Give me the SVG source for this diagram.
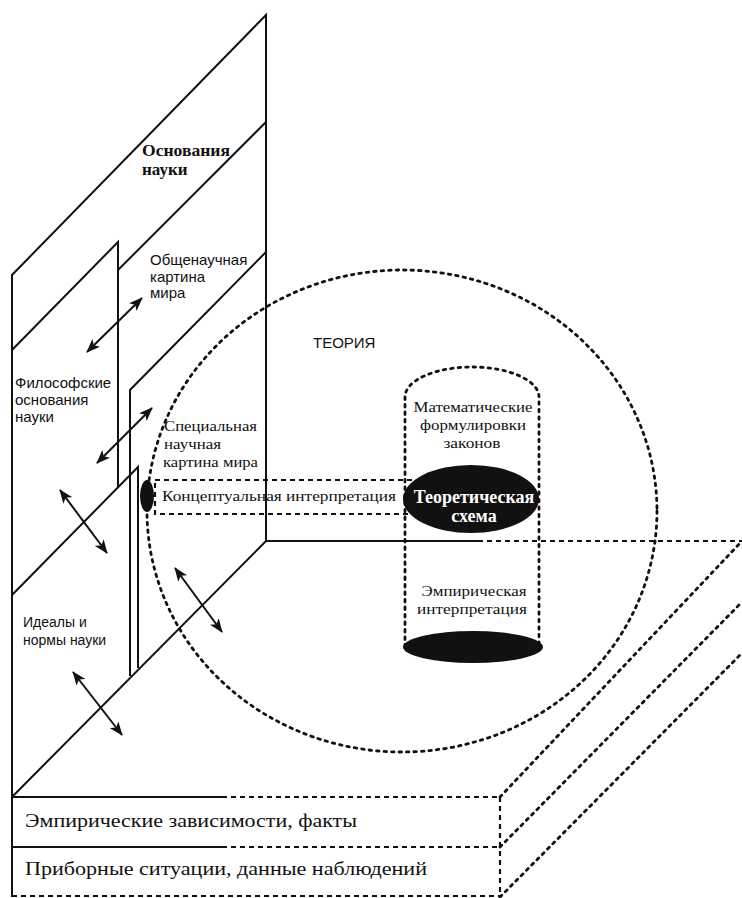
<svg xmlns="http://www.w3.org/2000/svg" width="742" height="898" viewBox="0 0 742 898">
<defs>
<marker id="ah" viewBox="0 0 14 11" refX="13" refY="5.5" markerWidth="14" markerHeight="11" markerUnits="userSpaceOnUse" orient="auto-start-reverse">
<path d="M0,0 L14,5.5 L0,11 L3.5,5.5 Z" fill="#111"/>
</marker>
<style>
.s{stroke:#111;stroke-width:2;fill:none}
.dot{stroke:#111;stroke-width:2.8;fill:none;stroke-dasharray:2.5 5;stroke-linecap:round}
.dash{stroke:#111;stroke-width:2.2;fill:none;stroke-dasharray:5 4}
.arr{stroke:#111;stroke-width:2;fill:none;marker-start:url(#ah);marker-end:url(#ah)}
.sans{font-family:"Liberation Sans",Arial,sans-serif;font-size:15px;fill:#111}
.serif{font-family:"Liberation Serif","Times New Roman",serif;font-size:15.5px;fill:#111}
.bold{font-family:"Liberation Serif","Times New Roman",serif;font-size:17px;font-weight:bold;fill:#111}
.wb{font-family:"Liberation Serif","Times New Roman",serif;font-size:18px;font-weight:bold;fill:#fff}
.big{font-family:"Liberation Serif","Times New Roman",serif;font-size:19px;fill:#111}
</style>
</defs>
<rect width="742" height="898" fill="#fff"/>

<g id="osnovaniya">
<path class="s" d="M12,897 L12,275 L266,15 L266,541"/>
<text class="bold" x="142" y="156" textLength="88" lengthAdjust="spacingAndGlyphs">Основания</text>
<text class="bold" x="142" y="175">науки</text>
</g>

<g id="obshenauchnaya">
<path class="s" d="M118,270 L266,122"/>
<text class="sans" x="150" y="265">Общенаучная</text>
<text class="sans" x="150" y="282">картина</text>
<text class="sans" x="150" y="298">мира</text>
</g>

<g id="filosofskie">
<path class="s" d="M12,350 L118,242 L118,487"/>
<text class="sans" x="15" y="388">Философские</text>
<text class="sans" x="15" y="405">основания</text>
<text class="sans" x="15" y="422">науки</text>
</g>

<g id="specialnaya">
<path class="s" d="M130,676 L130,390 L266,252"/>
<text class="serif" x="164" y="431" textLength="93" lengthAdjust="spacingAndGlyphs">Специальная</text>
<text class="serif" x="164" y="449" textLength="57" lengthAdjust="spacingAndGlyphs">научная</text>
<text class="serif" x="163" y="467" textLength="95" lengthAdjust="spacingAndGlyphs">картина мира</text>
</g>

<g id="idealy">
<path class="s" d="M12,595 L138,467 L138,668"/>
<text class="sans" x="23" y="627" style="font-size:14px">Идеалы и</text>
<text class="sans" x="23" y="645" style="font-size:14px">нормы науки</text>
</g>

<g id="floor">
<path class="s" d="M12,797 L266,541 L478,541"/>
<path class="dash" d="M478,541 L742,541"/>
</g>

<g id="slab">
<path class="s" d="M12,797 L222,797 M12,847 L222,847"/>
<path class="dash" d="M222,797 L500,797 M222,847 L500,847 M12,896 L500,896 M500,797 L500,898"/>
<path class="dot" d="M500,797 L742,541 M500,847 L742,602 M500,897 L742,653"/>
<text class="big" x="25" y="827" textLength="332" lengthAdjust="spacingAndGlyphs">Эмпирические зависимости, факты</text>
<text class="big" x="25" y="875" textLength="402" lengthAdjust="spacingAndGlyphs">Приборные ситуации, данные наблюдений</text>
</g>

<g id="teoriya">
<ellipse class="dot" cx="402" cy="511" rx="255" ry="241"/>
<text class="sans" x="313" y="348">ТЕОРИЯ</text>
</g>

<g id="konceptualnaya">
<rect x="155" y="480" width="258" height="34" fill="#fff" class="dash"/>
<ellipse cx="147" cy="496" rx="7" ry="16" fill="#111"/>
<text class="serif" x="162" y="501" textLength="234" lengthAdjust="spacingAndGlyphs">Концептуальная интерпретация</text>
</g>

<g id="cylinder">
<path class="dot" d="M405,647 L405,397 A67,30 0 0 1 539,397 L539,647"/>
<text class="serif" x="473" y="412" text-anchor="middle" textLength="119" lengthAdjust="spacingAndGlyphs">Математические</text>
<text class="serif" x="473" y="430" text-anchor="middle" textLength="106" lengthAdjust="spacingAndGlyphs">формулировки</text>
<text class="serif" x="472" y="448" text-anchor="middle" textLength="57" lengthAdjust="spacingAndGlyphs">законов</text>
<text class="serif" x="474" y="596" text-anchor="middle" textLength="105" lengthAdjust="spacingAndGlyphs">Эмпирическая</text>
<text class="serif" x="472" y="614" text-anchor="middle" textLength="110" lengthAdjust="spacingAndGlyphs">интерпретация</text>
<ellipse cx="473" cy="647" rx="70" ry="16" fill="#111"/>
</g>

<g id="teoreticheskaya">
<ellipse cx="471" cy="499" rx="68" ry="34" fill="#111"/>
<text class="wb" x="474" y="503" text-anchor="middle">Теоретическая</text>
<text class="wb" x="474" y="522" text-anchor="middle">схема</text>
</g>

<g id="connectors">
<line class="arr" x1="87" y1="352" x2="142" y2="298"/>
<line class="arr" x1="97" y1="463" x2="152" y2="408"/>
<line class="arr" x1="60" y1="490" x2="107" y2="553"/>
<line class="arr" x1="175" y1="568" x2="222" y2="632"/>
<line class="arr" x1="73" y1="672" x2="122" y2="735"/>
</g>
</svg>
